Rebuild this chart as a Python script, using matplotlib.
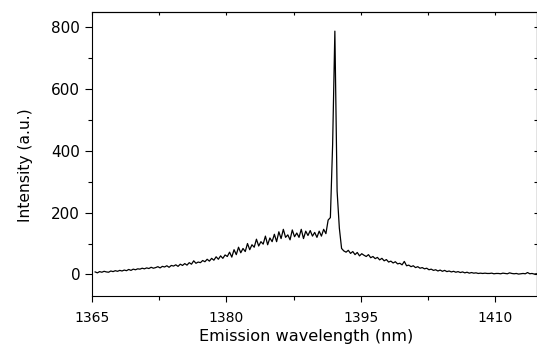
import matplotlib

matplotlib.use("Agg")
import matplotlib.pyplot as plt  # noqa: E402
import numpy as np  # noqa: E402
from matplotlib.ticker import MultipleLocator, NullFormatter  # noqa: E402

# spectrum sampled on a 0.25 nm grid starting at 1365.35 nm
WL_START = 1365.35
WL_STEP = 0.25
INTENSITY = [
    # 1365.35 - 1370.10
    8, 5, 9, 7, 10, 8, 7, 11, 9, 12, 10, 13, 11, 14, 12, 16, 13, 17, 15, 18,
    # 1370.35 - 1375.10
    17, 20, 18, 21, 19, 23, 20, 22, 25, 21, 26, 24, 28, 23, 29, 27, 31, 26, 33, 29,
    # 1375.35 - 1380.10
    35, 30, 38, 33, 44, 36, 40, 38, 45, 41, 49, 43, 52, 46, 57, 49, 60, 52, 63, 58,
    # 1380.35 - 1385.10
    72, 56, 80, 64, 88, 70, 84, 74, 100, 80, 96, 88, 114, 92, 106, 98, 124, 96, 118, 106,
    # 1385.35 - 1390.10
    130, 106, 138, 116, 146, 120, 128, 112, 144, 122, 134, 120, 146, 116, 140, 126, 142, 124, 136, 120,
    # 1390.35 - 1393.10 (lasing peak)
    140, 124, 146, 132, 176, 184, 420, 788, 270, 150, 84, 76,
    # 1393.35 - 1398.10
    72, 78, 68, 74, 64, 71, 60, 67, 62, 58, 64, 54, 58, 51, 55, 47, 52, 44, 48, 40,
    # 1398.35 - 1403.10
    43, 37, 41, 34, 36, 31, 42, 28, 30, 25, 28, 22, 25, 20, 22, 18, 20, 15, 17, 13,
    # 1403.35 - 1408.10
    15, 11, 14, 10, 13, 9, 11, 8, 10, 7, 9, 6, 8, 5, 7, 4, 6, 4, 5, 3,
    # 1408.35 - 1414.60
    4, 3, 4, 3, 3, 4, 2, 3, 3, 2, 4, 3, 2, 5, 3, 2, 3, 1, 2, 3, 2, 6, 2, 3, 1, 2,
]

XLIM = (1365, 1414.6)
YLIM = (-70, 850)

W, H = 537, 345

plt.rcParams.update({"font.family": ["DejaVu Sans"], "axes.linewidth": 0.8})

wavelength = WL_START + WL_STEP * np.arange(len(INTENSITY))

fig = plt.figure(figsize=(W / 100, H / 100), dpi=100)
ax = fig.add_axes([92 / W, (H - 296) / H, 444.5 / W, 284 / H])
ax.plot(wavelength, INTENSITY, color="black", linewidth=0.9)
ax.set_xlim(*XLIM)
ax.set_ylim(*YLIM)

ax.xaxis.set_major_locator(MultipleLocator(15))
ax.xaxis.set_minor_locator(MultipleLocator(7.5))
ax.yaxis.set_major_locator(MultipleLocator(200))
ax.yaxis.set_minor_locator(MultipleLocator(100))
ax.tick_params(axis="x", which="major", direction="out", length=4.3, width=0.8,
               pad=6.5, labelsize=10)
ax.tick_params(axis="x", which="minor", direction="out", length=3.2, width=0.8)
ax.tick_params(axis="y", which="major", direction="out", length=5, width=0.8,
               pad=3.5, labelsize=11)
ax.tick_params(axis="y", which="minor", direction="out", length=2.7, width=0.8)

# mirrored inward ticks on top and right
top = ax.secondary_xaxis("top")
top.xaxis.set_major_locator(MultipleLocator(15))
top.xaxis.set_minor_locator(MultipleLocator(7.5))
top.xaxis.set_major_formatter(NullFormatter())
top.tick_params(which="both", direction="in", length=2.2, width=0.8)
right = ax.secondary_yaxis("right")
right.yaxis.set_major_locator(MultipleLocator(100))
right.yaxis.set_major_formatter(NullFormatter())
right.tick_params(which="both", direction="in", length=2.2, width=0.8)

ax.set_xlabel("Emission wavelength (nm)", fontsize=11.6)
ax.xaxis.label.set_va("center")
ax.xaxis.set_label_coords((306 - 92) / 444.5, (296 - 336.5) / 284)
ax.set_ylabel("Intensity (a.u.)", fontsize=11.2)
ax.yaxis.label.set_va("center")
ax.yaxis.set_label_coords((25 - 92) / 444.5, (296 - 165) / 284)

fig.savefig("out.png", dpi=100)
